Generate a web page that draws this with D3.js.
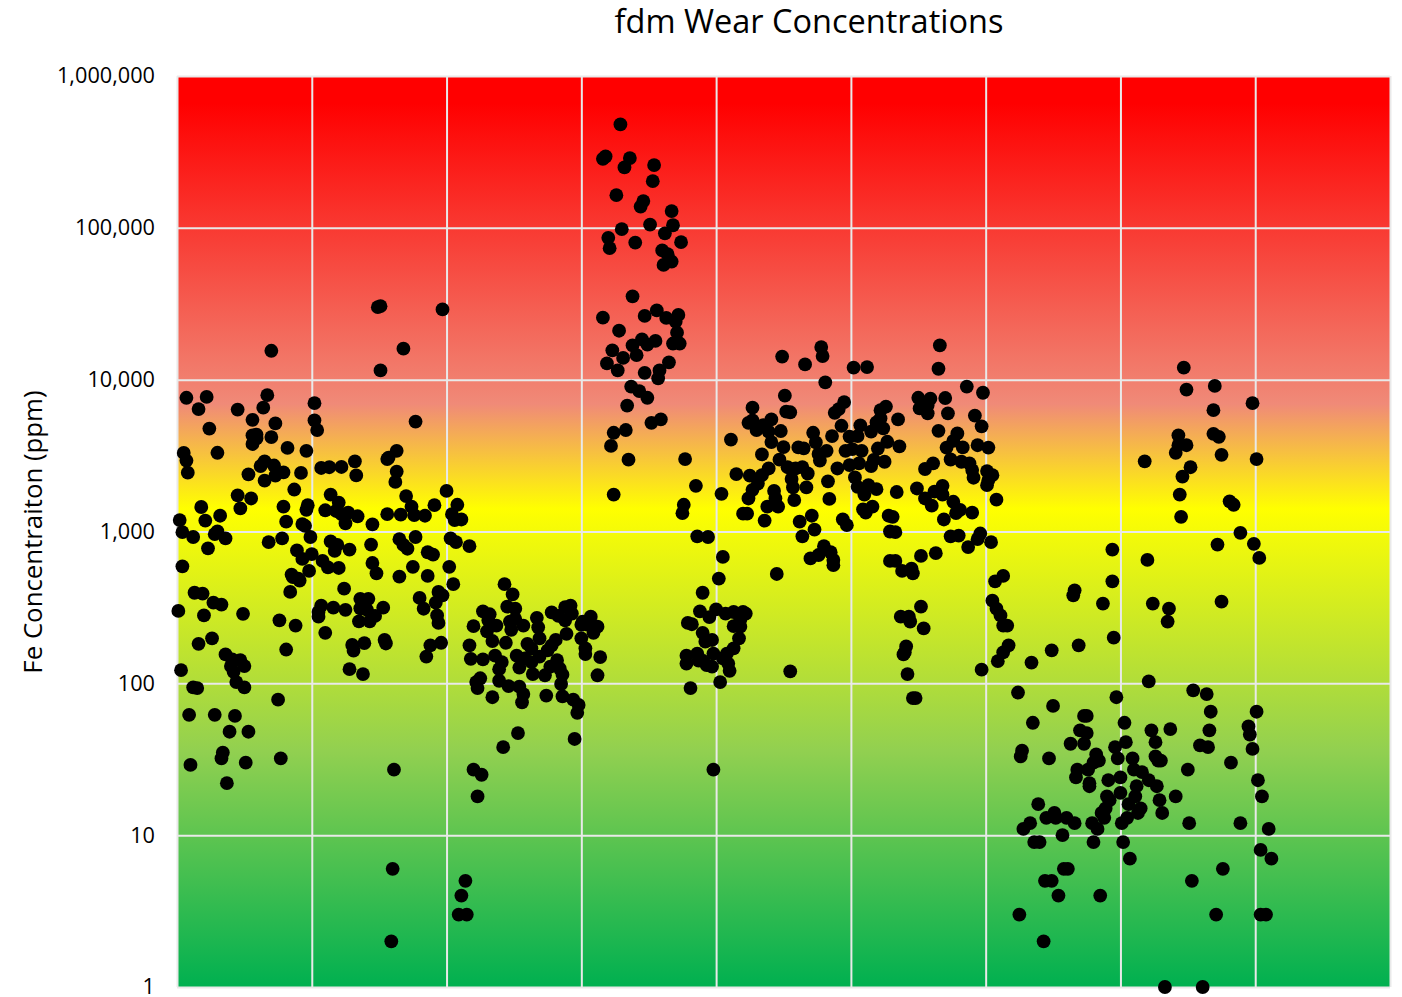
<!DOCTYPE html>
<html>
<head>
<meta charset="utf-8">
<script src="https://cdn.jsdelivr.net/npm/d3@7"></script>
<style>
  body { margin: 0; background: #fff; }
  text { font-family: "Open Sans", sans-serif; fill: #000; }
</style>
</head>
<body>
<svg id="chart" width="1402" height="997"></svg>
<script>
// [sample number, Fe ppm], one array per gridline section
const section1 = [[70,15500],[7,7600],[22,7700],[16,6400],[45,6350],[67,7900],[64,6540],[56,5440],[73,5150],[24,4760],[59,4350],[56,4300],[70,4190],[56,3770],[59,4100],[82,3550],[96,3400],[5,3290],[30,3300],[7,2930],[8,2440],[65,2900],[62,2700],[72,2720],[53,2380],[79,2450],[73,2330],[65,2160],[92,2430],[87,1890],[45,1730],[55,1650],[47,1420],[18,1450],[79,1460],[97,1490],[96,1390],[32,1270],[2,1190],[21,1180],[81,1160],[93,1120],[95,1090],[4,990],[12,920],[30,1000],[28,960],[36,900],[23,775],[68,850],[78,900],[99,920],[89,750],[100,710],[93,660],[4,590],[98,550],[85,520],[90,490],[91,475],[86,500],[84,400],[13,395],[19,390],[27,340],[33,330],[1,300],[20,280],[49,287],[76,260],[88,240],[26,198],[16,182],[81,167],[36,155],[47,142],[41,144],[50,130],[40,130],[42,119],[3,122],[44,102],[12,94],[15,93],[50,94],[75,78],[9,62],[28,62],[43,61],[39,48],[53,48],[34,35],[33,32],[77,32],[51,30],[10,29],[37,22]];

const section2 = [[102,7000],[102,5400],[104,4660],[151,11500],[168,16000],[177,5300],[107,2620],[113,2650],[122,2660],[132,2900],[133,2340],[163,3400],[157,3070],[156,3000],[163,2480],[162,2120],[170,1710],[200,1850],[191,1490],[114,1750],[120,1550],[110,1380],[118,1365],[122,1300],[127,1330],[134,1260],[125,1130],[145,1115],[156,1300],[166,1290],[174,1460],[176,1280],[184,1270],[165,890],[177,920],[171,770],[168,815],[114,860],[117,745],[119,815],[128,760],[144,820],[186,730],[190,705],[145,620],[108,640],[112,580],[120,575],[175,585],[148,530],[165,505],[186,510],[124,420],[136,360],[142,360],[136,312],[116,315],[125,305],[107,325],[105,295],[105,275],[153,315],[141,305],[147,278],[135,256],[143,256],[110,215],[130,179],[131,164],[139,184],[154,193],[155,183],[128,124],[138,115],[161,27],[180,365],[194,400],[197,380],[192,340],[183,310],[193,280],[194,250],[196,185],[188,178],[185,150],[149,30000],[151,30500],[159,2],[160,6],[197,29000]];

const section3 = [[202,585],[205,450],[204,1300],[208,1500],[206,1190],[211,1200],[203,900],[207,850],[217,800],[243,450],[249,385],[245,320],[251,310],[227,298],[232,285],[231,260],[220,238],[237,240],[247,255],[251,265],[248,225],[257,240],[230,220],[234,190],[244,185],[217,178],[218,145],[227,144],[236,152],[241,138],[239,124],[239,104],[225,108],[222,102],[223,93],[234,81],[246,96],[254,95],[257,85],[256,75],[253,47],[242,38],[252,152],[254,127],[258,146],[260,182],[263,170],[267,270],[268,234],[269,198],[264,115],[273,113],[263,138],[269,150],[275,165],[278,178],[281,193],[277,129],[282,142],[284,125],[286,114],[285,99],[274,83],[286,82],[294,78],[298,72],[297,64],[295,43],[278,293],[283,278],[288,260],[288,318],[292,325],[293,288],[289,212],[220,27],[226,25],[223,18],[214,5],[211,4],[209,3],[215,3]];

const section4 = [[300,198],[303,170],[303,156],[314,149],[312,113],[301,255],[307,275],[300,243],[309,215],[312,236],[305,243],[329,480000],[318,295000],[316,285000],[336,288000],[332,250000],[354,259000],[353,203000],[326,164000],[346,150000],[344,138000],[367,129000],[351,105000],[368,104000],[330,98000],[362,92000],[320,86000],[321,73500],[340,80000],[374,80500],[360,71000],[364,67000],[367,60000],[361,57000],[338,35400],[316,25600],[356,28600],[347,26300],[363,25500],[372,26700],[370,24100],[328,21000],[371,20400],[355,18000],[345,18400],[368,17300],[373,17300],[338,16800],[349,17000],[323,15600],[341,14500],[331,13900],[319,12800],[365,13000],[327,11500],[347,11100],[358,11500],[357,10200],[337,9000],[343,8400],[349,7600],[334,6750],[352,5200],[359,5470],[333,4660],[324,4470],[322,3660],[335,2970],[377,3000],[324,1750],[385,2000],[376,1500],[375,1320],[386,930],[394,920],[390,395],[388,298],[395,273],[379,250],[382,245],[390,215],[397,193],[392,188],[378,152],[378,135],[386,157],[387,141],[398,157],[390,141],[397,129],[393,132],[381,93],[398,27],[400,307]];

const section5 = [[402,490],[407,288],[413,295],[420,295],[422,288],[418,262],[413,238],[418,236],[417,198],[413,170],[408,157],[405,146],[409,135],[410,121],[403,102],[404,1770],[405,680],[449,14200],[466,12600],[478,16400],[479,14300],[481,9600],[451,7850],[427,6540],[452,6150],[455,6100],[495,7120],[491,6400],[488,6050],[493,4970],[441,5470],[435,5020],[430,4660],[427,5400],[424,5200],[411,4030],[448,4590],[439,4550],[441,3880],[434,3220],[450,3600],[461,3580],[465,3530],[472,4470],[474,3860],[482,3400],[476,3240],[477,2930],[486,4250],[496,3400],[499,4220],[490,2600],[499,2740],[447,2970],[439,2600],[453,2650],[434,2350],[431,2070],[427,1880],[424,1650],[415,2390],[425,2330],[459,2600],[464,2650],[468,2410],[456,2220],[457,1950],[467,1950],[483,2140],[484,1640],[458,1610],[443,1850],[444,1650],[438,1460],[446,1460],[420,1310],[423,1310],[436,1180],[471,1270],[462,1160],[473,1030],[464,930],[494,1200],[497,1100],[480,800],[485,730],[476,700],[470,665],[487,650],[487,600],[445,525],[455,120]];

const section6 = [[502,12000],[512,12100],[566,16800],[565,11800],[586,9000],[598,8200],[526,6650],[522,6300],[522,5550],[519,5230],[524,4780],[535,5470],[550,7600],[559,7500],[570,7570],[551,6470],[557,6800],[557,6000],[572,6000],[592,5800],[597,4930],[565,4600],[579,4420],[576,3950],[583,3580],[594,3700],[571,3570],[574,2980],[582,2880],[588,2810],[590,2540],[591,2260],[561,2810],[555,2580],[568,2000],[568,1750],[562,1830],[549,1920],[555,1650],[560,1480],[576,1570],[581,1390],[578,1320],[590,1330],[569,1200],[574,930],[580,940],[596,970],[594,890],[587,790],[563,720],[552,690],[529,640],[533,640],[538,550],[545,570],[546,530],[528,1270],[531,1250],[529,1000],[533,990],[509,1400],[516,1460],[511,1330],[534,1820],[519,1900],[513,2020],[510,1750],[505,1970],[503,2270],[506,2810],[515,2700],[517,2960],[525,2880],[520,3520],[527,3900],[536,3640],[501,3490],[508,3400],[505,4250],[515,4550],[507,5000],[552,320],[537,275],[543,275],[544,255],[554,230],[541,175],[540,160],[539,155],[542,115],[546,80],[548,80],[597,123]];

const section7 = [[601,2500],[605,2350],[602,3570],[602,2180],[601,2020],[608,1620],[604,850],[613,510],[607,470],[605,350],[608,310],[611,280],[613,240],[616,240],[617,178],[613,160],[609,140],[634,137],[649,165],[669,178],[665,380],[666,410],[687,335],[694,470],[694,760],[695,200],[624,87],[650,71],[635,55],[697,81],[673,61],[675,61],[670,49],[675,47],[663,40],[673,40],[696,38],[698,32],[682,34],[684,31],[680,30],[676,27],[668,27],[667,24],[691,23],[700,24],[677,22],[677,21],[690,18],[692,17],[689,15],[686,14],[688,13],[679,12],[683,11],[639,16],[651,14],[645,13],[652,13],[660,13],[666,12],[633,12],[628,11],[657,10],[636,9],[640,9],[680,9],[658,6],[661,6],[644,5],[649,5],[654,4],[685,4],[625,3],[643,2],[627,36],[626,33],[647,32]];

const section8 = [[721,103],[703,55],[704,41],[709,32],[710,27],[716,26],[721,23],[727,21],[712,21],[700,19],[711,18],[729,17],[741,18],[731,14],[706,16],[715,15],[713,14],[705,13],[701,12],[702,9],[707,7],[751,12],[789,12],[754,90],[764,85],[767,65],[766,49],[795,52],[796,46],[798,37],[782,30],[759,39],[765,38],[750,27],[737,50],[723,49],[726,41],[726,33],[730,31],[728,31],[776,6],[753,5],[771,3],[733,1],[761,1],[747,12000],[749,8600],[770,9100],[769,6300],[798,7000],[769,4400],[773,4200],[743,4300],[743,3700],[749,3700],[741,3300],[775,3200],[718,2900],[752,2650],[746,2300],[744,1750],[781,1580],[784,1500],[745,1250],[789,980],[772,820],[799,830],[720,650],[724,335],[736,310],[735,255],[775,345]];

const section9 = [[801,3000],[803,670],[801,65],[802,23],[805,18],[810,11],[804,8],[812,7],[804,3],[808,3]];

const feTicks = [1, 10, 100, 1000, 10000, 100000, 1000000];
const sampleTicks = [0, 100, 200, 300, 400, 500, 600, 700, 800, 900];

const left = 177, right = 1390, top_ = 76, bottom = 987;

const svg = d3.select('#chart');

const x = d3.scaleLinear().domain([0, 900]).range([left, right]);
const y = d3.scaleLog().domain([1, 1000000]).range([bottom, top_]);

// background runs red -> salmon -> yellow -> light green -> green
const grad = svg.append('defs').append('linearGradient')
    .attr('id', 'bg')
    .attr('x1', 0).attr('y1', 0).attr('x2', 0).attr('y2', 1);
grad.append('stop').attr('offset', '3%').attr('stop-color', '#ff0000');
grad.append('stop').attr('offset', '36%').attr('stop-color', '#f08a78');
grad.append('stop').attr('offset', '47.5%').attr('stop-color', '#ffff00');
grad.append('stop').attr('offset', '74%').attr('stop-color', '#92d050');
grad.append('stop').attr('offset', '100%').attr('stop-color', '#00b050');

svg.append('rect')
    .attr('x', left).attr('y', top_)
    .attr('width', right - left).attr('height', bottom - top_)
    .attr('fill', 'url(#bg)');

// vertical gridlines, no labels on the x axis
const xAxis = svg.append('g')
    .attr('transform', `translate(0,${bottom})`)
    .call(d3.axisBottom(x).tickValues(sampleTicks).tickSize(top_ - bottom).tickFormat(''));
xAxis.select('.domain').remove();
xAxis.selectAll('line').attr('stroke', '#e9e9e9').attr('stroke-width', 2);

const yAxis = svg.append('g')
    .attr('transform', `translate(${left},0)`)
    .call(d3.axisLeft(y).tickValues(feTicks).tickSize(left - right).tickPadding(22).tickFormat(d3.format(',')));
yAxis.select('.domain').remove();
yAxis.selectAll('line').attr('stroke', '#e9e9e9').attr('stroke-width', 2);
yAxis.selectAll('text')
    .style('font-family', '"Open Sans", sans-serif')
    .style('font-size', '21.7px')
    .attr('fill', '#000');

const points = [].concat(section1, section2, section3, section4, section5, section6, section7, section8, section9);

svg.append('g').selectAll('circle')
    .data(points)
    .join('circle')
    .attr('cx', d => x(d[0]))
    .attr('cy', d => y(d[1]))
    .attr('r', 6.9)
    .attr('fill', '#000');

svg.append('text')
    .attr('x', 809).attr('y', 33)
    .attr('text-anchor', 'middle')
    .style('font-size', '32.5px')
    .text('fdm Wear Concentrations');

svg.append('text')
    .attr('transform', 'translate(42,532) rotate(-90)')
    .attr('text-anchor', 'middle')
    .style('font-size', '25.8px')
    .text('Fe Concentraiton (ppm)');
</script>
</body>
</html>
